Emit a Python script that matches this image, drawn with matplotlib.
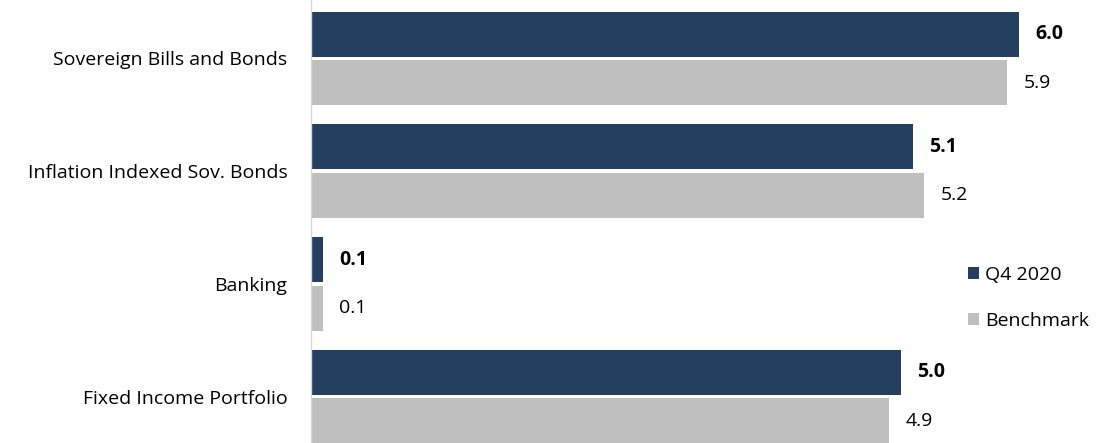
import matplotlib
matplotlib.use("Agg")
import matplotlib.pyplot as plt
import numpy as np

# Data
categories = ["Sovereign Bills and Bonds", "Inflation Indexed Sov. Bonds",
              "Banking", "Fixed Income Portfolio"]
q4_2020 = [6.0, 5.1, 0.1, 5.0]
benchmark = [5.9, 5.2, 0.1, 4.9]

dark = "#253F61"
grey = "#BFBFBF"

plt.rcParams['font.family'] = ['Open Sans', 'DejaVu Sans']
fs = 14

fig = plt.figure(figsize=(11.05, 4.43), dpi=100)
left = 311 / 1105
ax = fig.add_axes([left, 0, 1 - left, 1])

y = np.arange(len(categories))
h = 0.4
off = 0.215
b1 = ax.barh(y - off, q4_2020, height=h, color=dark, label="Q4 2020")
b2 = ax.barh(y + off, benchmark, height=h, color=grey, label="Benchmark")

for rect, v in zip(b1, q4_2020):
    ax.text(v + 0.14, rect.get_y() + rect.get_height() / 2, f"{v:.1f}",
            va="center", ha="left", fontsize=fs, fontweight="bold", color="black")
for rect, v in zip(b2, benchmark):
    ax.text(v + 0.14, rect.get_y() + rect.get_height() / 2, f"{v:.1f}",
            va="center", ha="left", fontsize=fs, color="black")

ax.set_xlim(0, 6.73)
ax.set_ylim(3.412, -0.519)
ax.set_yticks(y)
ax.set_yticklabels(categories, fontsize=fs)
ax.tick_params(axis="y", length=0, pad=17)
ax.set_xticks([])
for s in ["top", "right", "bottom"]:
    ax.spines[s].set_visible(False)
ax.spines["left"].set_color("#D9D9D9")
ax.spines["left"].set_linewidth(1)

fig.legend(loc="center left", bbox_to_anchor=(950 / 1105, 1 - 298 / 443),
           frameon=False, fontsize=fs, handlelength=0.6, handleheight=0.6,
           handletextpad=0.3, labelspacing=1.45)

fig.savefig("out.png", dpi=100)
